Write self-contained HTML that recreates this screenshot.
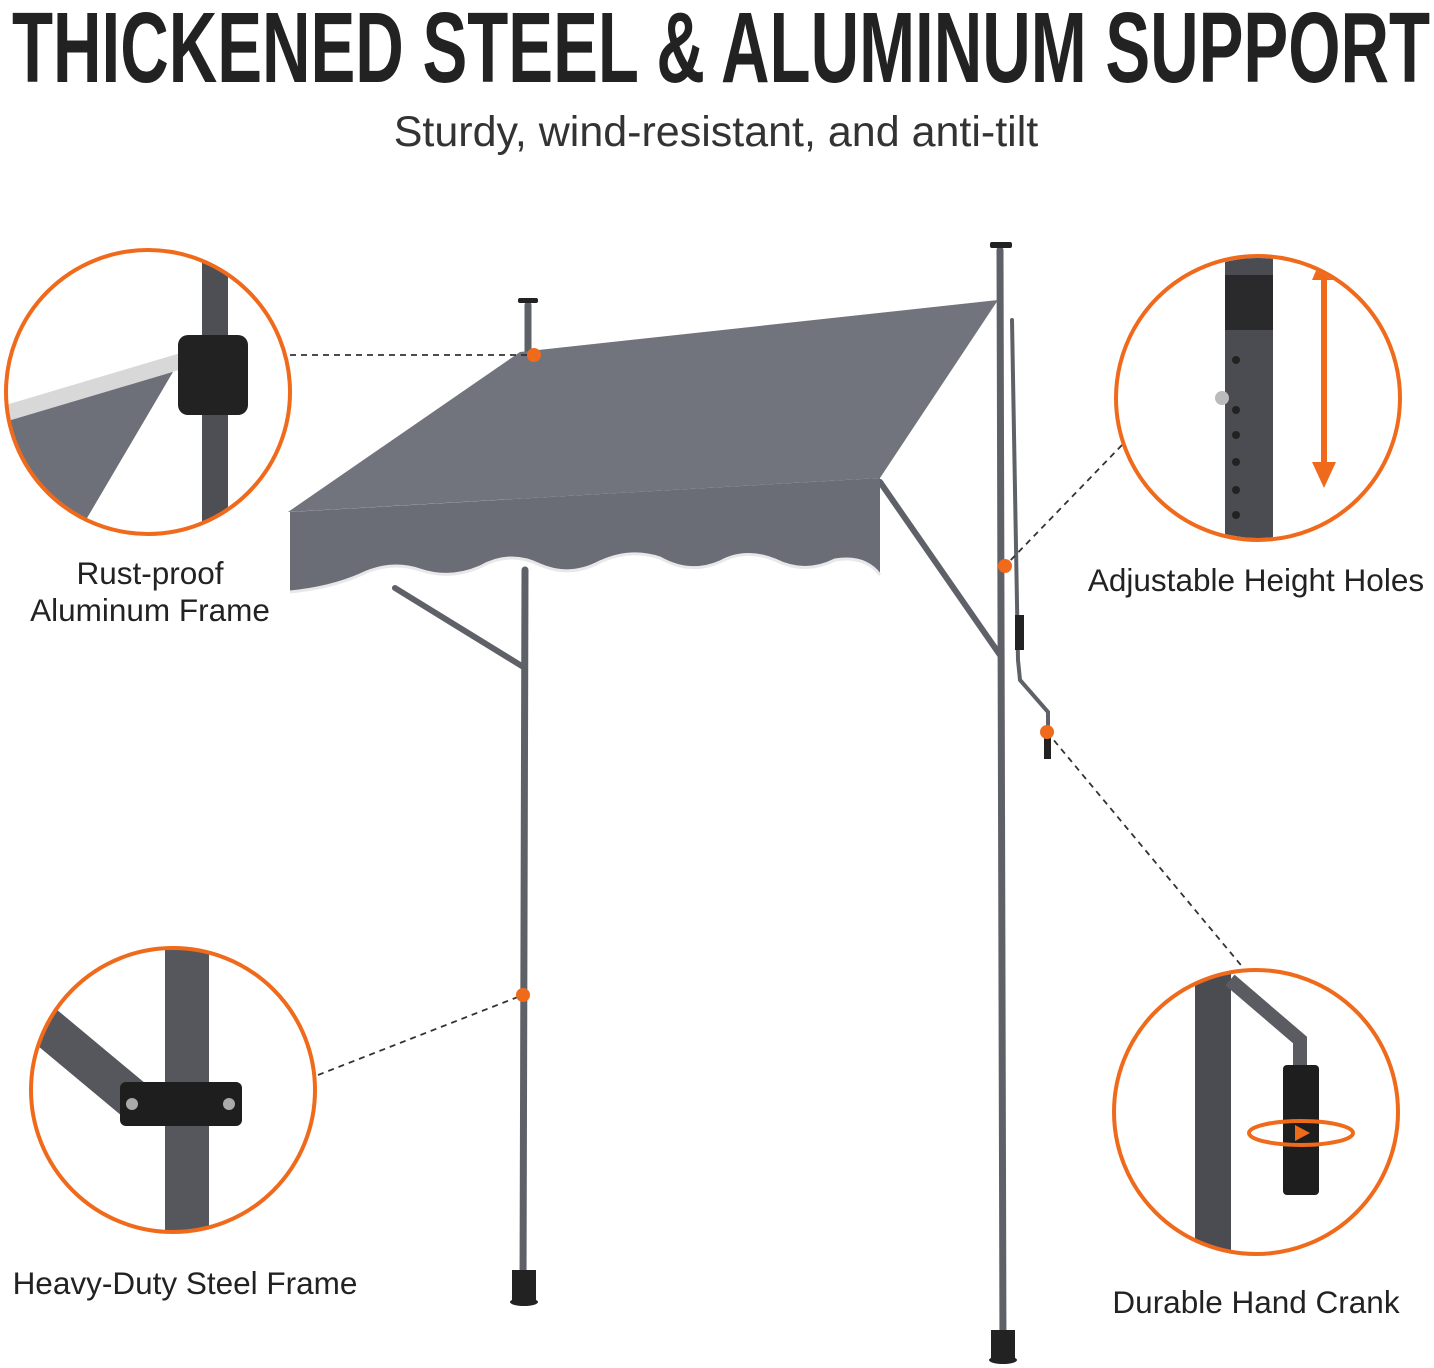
<!DOCTYPE html>
<html><head><meta charset="utf-8"><style>
html,body{margin:0;padding:0;background:#fff;}
svg{display:block;}
</style></head><body>
<svg width="1434" height="1368" viewBox="0 0 1434 1368" xmlns="http://www.w3.org/2000/svg">
<defs>
<clipPath id="c1"><circle cx="148" cy="392" r="141"/></clipPath>
<clipPath id="c2"><circle cx="1258" cy="398" r="140"/></clipPath>
<clipPath id="c3"><circle cx="173" cy="1090" r="141"/></clipPath>
<clipPath id="c4"><circle cx="1256" cy="1112" r="141"/></clipPath>
</defs>
<text x="12" y="82" font-family="'Liberation Sans Narrow','Liberation Sans',sans-serif" font-weight="bold" font-size="100" fill="#222" textLength="1418" lengthAdjust="spacingAndGlyphs">THICKENED STEEL &amp; ALUMINUM SUPPORT</text>
<text x="716" y="146" text-anchor="middle" font-family="'Liberation Sans',sans-serif" font-size="43" fill="#333">Sturdy, wind-resistant, and anti-tilt</text>

<g stroke="#5f6168" stroke-linecap="round">
<line x1="528" y1="305" x2="528" y2="355" stroke-width="7"/>
<line x1="525" y1="570" x2="523" y2="1290" stroke-width="7"/>
<line x1="1000" y1="250" x2="1003" y2="1355" stroke-width="7"/>
<line x1="395" y1="588" x2="525" y2="668" stroke-width="6"/>
<line x1="880" y1="482" x2="1000" y2="655" stroke-width="6"/>
<path d="M1012 320 L1018 660 L1020 680 L1048 712 L1048 735" fill="none" stroke-width="4"/>
</g>
<rect x="512" y="1270" width="24" height="30" fill="#222"/>
<ellipse cx="524" cy="1302" rx="14" ry="4" fill="#222"/>
<rect x="991" y="1330" width="24" height="28" fill="#222"/>
<ellipse cx="1003" cy="1360" rx="14" ry="4" fill="#222"/>
<rect x="518" y="298" width="20" height="5" rx="2" fill="#222"/>
<rect x="990" y="242" width="22" height="6" rx="2" fill="#222"/>
<rect x="1015" y="615" width="9" height="35" fill="#222"/>
<rect x="1044" y="735" width="7" height="24" fill="#222"/>

<polygon points="520,352 998,300 880,478 288,512" fill="#72747d"/>
<path d="M290 512 L880 478 L880 575 Q865 555 835 560 Q805 575 775 560 Q745 548 720 562 Q690 575 660 558 Q630 548 600 562 Q570 578 540 565 Q510 550 480 567 Q450 580 420 570 Q390 560 360 575 Q330 588 290 592 Z" fill="#6b6d76"/>
<path d="M290 592 Q330 588 360 575 Q390 560 420 570 Q450 580 480 567 Q510 550 540 565 Q570 578 600 562 Q630 548 660 558 Q690 575 720 562 Q745 548 775 560 Q805 575 835 560 Q865 555 880 575" fill="none" stroke="#e8e8ea" stroke-width="3"/>

<g stroke="#333" stroke-width="1.8" stroke-dasharray="6,5" fill="none">
<line x1="290" y1="355" x2="528" y2="355"/>
<line x1="1122" y1="445" x2="1005" y2="566"/>
<line x1="1047" y1="732" x2="1245" y2="970"/>
<line x1="318" y1="1075" x2="523" y2="995"/>
</g>
<g fill="#f06a1c">
<circle cx="534" cy="355" r="7"/><circle cx="1005" cy="566" r="7"/>
<circle cx="1047" cy="732" r="7"/><circle cx="523" cy="995" r="7"/>
</g>

<g clip-path="url(#c1)">
<rect x="0" y="240" width="300" height="300" fill="#fff"/>
<polygon points="0,420 180,360 80,530 0,540" fill="#6e7079"/>
<line x1="0" y1="415" x2="185" y2="360" stroke="#d8d8d8" stroke-width="16"/>
<rect x="202" y="240" width="26" height="300" fill="#4d4f55"/>
<rect x="178" y="335" width="70" height="80" rx="10" fill="#222"/>
</g>
<circle cx="148" cy="392" r="142" fill="none" stroke="#f06a1c" stroke-width="4"/>

<g clip-path="url(#c2)">
<rect x="1225" y="250" width="48" height="300" fill="#4a4c52"/>
<rect x="1225" y="275" width="48" height="55" fill="#2a2a2c"/>
<g fill="#222"><circle cx="1236" cy="360" r="4"/><circle cx="1236" cy="410" r="4"/><circle cx="1236" cy="435" r="4"/><circle cx="1236" cy="462" r="4"/><circle cx="1236" cy="490" r="4"/><circle cx="1236" cy="515" r="4"/></g>
<circle cx="1222" cy="398" r="7" fill="#bbb"/>
<line x1="1324" y1="270" x2="1324" y2="480" stroke="#f06a1c" stroke-width="6"/>
<polygon points="1312,280 1324,252 1336,280" fill="#f06a1c"/>
<polygon points="1312,462 1324,488 1336,462" fill="#f06a1c"/>
</g>
<circle cx="1258" cy="398" r="142" fill="none" stroke="#f06a1c" stroke-width="4"/>

<g clip-path="url(#c3)">
<rect x="165" y="940" width="44" height="300" fill="#55575c"/>
<line x1="20" y1="1005" x2="140" y2="1105" stroke="#55575c" stroke-width="40"/>
<rect x="120" y="1082" width="122" height="44" rx="6" fill="#1e1e1e"/>
<circle cx="132" cy="1104" r="6" fill="#aaa"/><circle cx="229" cy="1104" r="6" fill="#aaa"/>
</g>
<circle cx="173" cy="1090" r="142" fill="none" stroke="#f06a1c" stroke-width="4"/>

<g clip-path="url(#c4)">
<rect x="1195" y="965" width="36" height="300" fill="#4a4c52"/>
<path d="M1230 980 L1300 1040 L1300 1075" fill="none" stroke="#5a5c62" stroke-width="14"/>
<rect x="1283" y="1065" width="36" height="130" rx="4" fill="#1e1e1e"/>
<ellipse cx="1301" cy="1133" rx="52" ry="12" fill="none" stroke="#f06a1c" stroke-width="4"/>
<polygon points="1295,1125 1310,1133 1295,1141" fill="#f06a1c"/>
</g>
<circle cx="1256" cy="1112" r="142" fill="none" stroke="#f06a1c" stroke-width="4"/>

<g font-family="'Liberation Sans',sans-serif" font-size="31.5" fill="#222" text-anchor="middle">
<text x="150" y="584">Rust-proof</text>
<text x="150" y="621">Aluminum Frame</text>
<text x="1256" y="591">Adjustable Height Holes</text>
<text x="185" y="1294">Heavy-Duty Steel Frame</text>
<text x="1256" y="1313">Durable Hand Crank</text>
</g>
</svg>
</body></html>
